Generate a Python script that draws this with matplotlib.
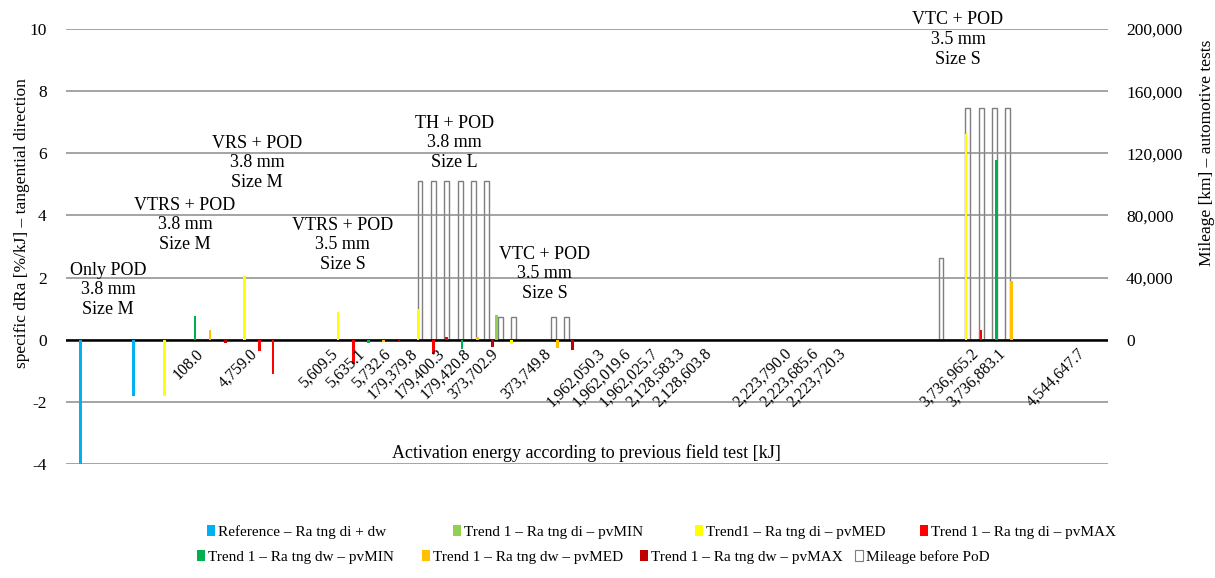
import numpy as np
import matplotlib.pyplot as plt
from matplotlib.patches import Patch
from matplotlib.ticker import FuncFormatter

plt.rcParams['font.family'] = ['Liberation Serif', 'DejaVu Serif']
plt.rcParams['axes.unicode_minus'] = False

# ---- data -------------------------------------------------------------------
n_cat = 78  # categories on the activation-energy axis (many unlabelled)

tick_pos = [10, 14, 20, 22, 24, 26, 28, 30, 32, 36, 40, 42, 44, 46, 48,
            54, 56, 58, 68, 70, 76]
tick_labels = ["108.0", "4,759.0", "5,609.5", "5,635.1", "5,732.6",
               "179,379.8", "179,400.3", "179,420.8", "373,702.9", "373,749.8",
               "1,962,050.3", "1,962,019.6", "1,962,025.7", "2,128,583.3",
               "2,128,603.8", "2,223,790.0", "2,223,685.6", "2,223,720.3",
               "3,736,965.2", "3,736,883.1", "4,544,647.7"]

# specific dRa [%/kJ] per series: (category index, value)
ref_cat = [1, 5]
ref_val = [-4.0, -1.8]
di_min_cat = [32]
di_min_val = [0.78]
di_med_cat = [7, 13, 20, 26, 33, 67]
di_med_val = [-1.8, 2.05, 0.88, 1.0, -0.15, 6.63]
di_max_cat = [14, 15, 21, 27, 28, 68]
di_max_val = [-0.35, -1.1, -0.78, -0.46, 0.1, 0.3]
dw_min_cat = [9, 22, 29, 69]
dw_min_val = [0.75, -0.1, -0.3, 5.79]
dw_med_cat = [10, 23, 30, 36, 70]
dw_med_val = [0.32, -0.08, 0.1, -0.27, 1.88]
dw_max_cat = [11, 24, 31, 37]
dw_max_val = [-0.1, -0.05, -0.23, -0.32]

# mileage before PoD [km] (secondary axis)
mil_cat = [7, 9, 10, 11, 13, 14, 15, 20, 21, 22, 23, 24,
           26, 27, 28, 29, 30, 31, 32, 33, 36, 37, 65, 67, 68, 69, 70]
mil_val = [0, 0, 0, 0, 0, 0, 0, 0, 0, 0, 0, 0,
           102400, 102400, 102400, 102400, 102400, 102400, 14300, 14300,
           14500, 14500, 52500, 149400, 149400, 149400, 149400]

series = [
    ("Reference \u2013 Ra tng di + dw", ref_cat, ref_val, "#00B0F0"),
    ("Trend 1 \u2013 Ra tng di \u2013 pvMIN", di_min_cat, di_min_val, "#92D050"),
    ("Trend1 \u2013 Ra tng di \u2013 pvMED", di_med_cat, di_med_val, "#FFFF00"),
    ("Trend 1 \u2013 Ra tng di \u2013 pvMAX", di_max_cat, di_max_val, "#FF0000"),
    ("Trend 1 \u2013 Ra tng dw \u2013 pvMIN", dw_min_cat, dw_min_val, "#00B050"),
    ("Trend 1 \u2013 Ra tng dw \u2013 pvMED", dw_med_cat, dw_med_val, "#FFC000"),
    ("Trend 1 \u2013 Ra tng dw \u2013 pvMAX", dw_max_cat, dw_max_val, "#C00000"),
]

groups = ["Only POD\n3.8 mm\nSize M", "VTRS + POD\n3.8 mm\nSize M",
          "VRS + POD\n3.8 mm\nSize M", "VTRS + POD\n3.5 mm\nSize S",
          "TH + POD\n3.8 mm\nSize L", "VTC + POD\n3.5 mm\nSize S",
          "VTC + POD\n3.5 mm\nSize S"]
group_xy = [(2.64, 1.61), (8.4, 3.70), (13.8, 5.70), (20.2, 3.06),
            (28.6, 6.34), (35.35, 2.12), (66.27, 9.66)]

# ---- figure -----------------------------------------------------------------
W, H = 1215, 578
fig = plt.figure(figsize=(W / 100, H / 100), dpi=100)
ax = fig.add_axes([66 / W, (H - 464) / H, (1108 - 66) / W, (464 - 29) / H])
ax2 = ax.twinx()

mil_edge = "#7F7F7F"
ax2.bar(mil_cat, mil_val, width=0.37, facecolor="white", edgecolor=mil_edge, linewidth=1.0)
ax2.set_ylim(-80000, 200000)
ax2.set_yticks(np.arange(0, 200001, 40000))
ax2.yaxis.set_major_formatter(FuncFormatter(lambda v, p: f"{v:,.0f}"))
ax2.tick_params(axis="y", length=0, pad=13, labelsize=12.5)
for lab in ax2.get_yticklabels():
    lab.set_horizontalalignment("left")

ax.set_zorder(ax2.get_zorder() + 1)
ax.patch.set_visible(False)

bw = 1 / 7
for i, (name, cats, vals, col) in enumerate(series):
    ax.bar(np.array(cats) + (i - 3) * bw, vals, width=bw * 1.35, color=col, linewidth=0, zorder=3)

ax.set_xlim(-0.5, n_cat - 0.5)
ax.set_ylim(-4, 10)
ax.set_yticks(np.arange(-4, 11, 2))
ax.yaxis.grid(True, color="#8C8C8C", linewidth=1.1)
ax.set_axisbelow(True)
ax.axhline(0, color="black", linewidth=1.8, zorder=2)
ax.set_xticks([])
ax.tick_params(axis="y", length=0, pad=14, labelsize=12.5)
for a in (ax, ax2):
    for s in a.spines.values():
        s.set_visible(False)

for p, lab in zip(tick_pos, tick_labels):
    ax.annotate(lab, xy=(p, 0), xytext=(1, -6), textcoords="offset pixels",
                rotation=45, ha="right", va="top", fontsize=11.5)

for txt, (gx, gy) in zip(groups, group_xy):
    ax.text(gx, gy, txt, ha="center", va="center", fontsize=13, linespacing=1.2,
            clip_on=False, zorder=5)

fig.text(586 / W, 1 - 453 / H, "Activation energy according to previous field test [kJ]",
         ha="center", va="center", fontsize=13)
fig.text(22 / W, 1 - 223 / H, "specific dRa [%/kJ] \u2013 tangential direction",
         rotation=90, ha="center", va="center", fontsize=12.5)
fig.text(1207 / W, 1 - 153 / H, "Mileage [km] \u2013 automotive tests",
         rotation=90, ha="center", va="center", fontsize=12.5)

# legend laid out like the spreadsheet: two rows, evenly spaced entries
handles = [Patch(facecolor=c, edgecolor="none") for _, _, _, c in series]
handles.append(Patch(facecolor="white", edgecolor=mil_edge, linewidth=0.8))
names = [s[0] for s in series] + ["Mileage before PoD"]
leg_pos = [(207, 532), (453, 532), (695, 532), (920, 532),
           (197, 557), (422, 557), (640, 557), (855, 557)]
for h, nm, (lx, ly) in zip(handles, names, leg_pos):
    fig.legend([h], [nm], loc="center left", bbox_to_anchor=(lx / W, 1 - ly / H),
               frameon=False, fontsize=11, handlelength=0.55, handleheight=0.75,
               handletextpad=0.2, borderpad=0, borderaxespad=0)

fig.savefig("out.png", dpi=100)
